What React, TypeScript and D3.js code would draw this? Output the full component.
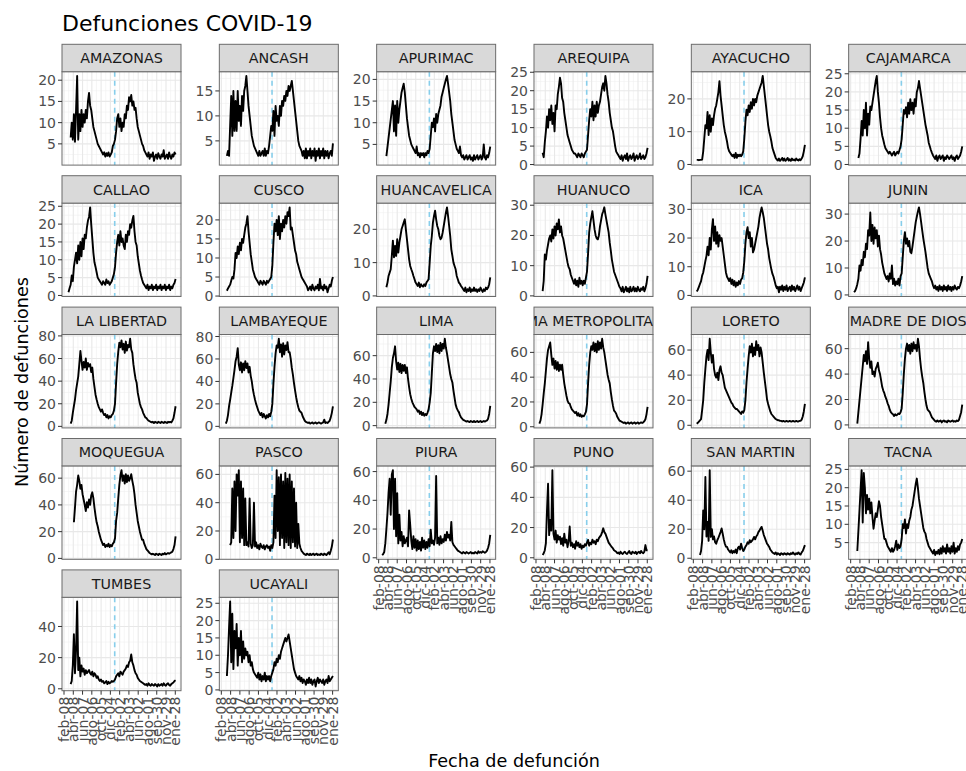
import React from "react";
import * as d3 from "d3";

const width = 966;
const height = 771;

// facet names, in ggplot facet_wrap order
const departments = [
  "AMAZONAS", "ANCASH", "APURIMAC", "AREQUIPA", "AYACUCHO", "CAJAMARCA",
  "CALLAO", "CUSCO", "HUANCAVELICA", "HUANUCO", "ICA", "JUNIN",
  "LA LIBERTAD", "LAMBAYEQUE", "LIMA", "LIMA METROPOLITANA", "LORETO", "MADRE DE DIOS",
  "MOQUEGUA", "PASCO", "PIURA", "PUNO", "SAN MARTIN", "TACNA",
  "TUMBES", "UCAYALI",
];

// y breaks of each free y scale
const yBreaks = [
  [5, 10, 15, 20], [5, 10, 15], [5, 10, 15, 20], [0, 5, 10, 15, 20, 25], [0, 10, 20], [0, 5, 10, 15, 20, 25],
  [0, 5, 10, 15, 20, 25], [0, 5, 10, 15, 20], [0, 10, 20], [0, 10, 20, 30], [0, 10, 20, 30], [0, 10, 20, 30],
  [0, 20, 40, 60, 80], [0, 20, 40, 60, 80], [0, 20, 40, 60], [0, 20, 40, 60], [0, 20, 40, 60], [0, 20, 40, 60],
  [0, 20, 40, 60], [0, 20, 40, 60], [0, 20, 40, 60], [0, 20, 40, 60], [0, 20, 40, 60], [5, 10, 15, 20, 25],
  [0, 20, 40], [0, 5, 10, 15, 20, 25],
];

// x breaks (every 60 days)
const xTickDates = [
  "2020-02-08", "2020-04-08", "2020-06-07", "2020-08-06", "2020-10-05", "2020-12-04", "2021-02-02",
  "2021-04-03", "2021-06-02", "2021-08-01", "2021-09-30", "2021-11-29", "2022-01-28",
];
const xTickLabels = [
  "feb-08", "abr-08", "jun-07", "ago-06", "oct-05", "dic-04", "feb-02",
  "abr-03", "jun-02", "ago-01", "sep-30", "nov-29", "ene-28",
];

const firstWeek = "2020-03-01"; // values below are weekly from this date
const markerDate = "2021-01-01";

// weekly deaths (null = no data)
const amazonas = [null, null, null, 6.5, 10, 6, 12, 5.5, 13, 21, 6, 12, 8, 13, 9, 12, 10, 13, 11, 15, 17, 14, 13, 11, 9, 8, 7, 6, 5, 4.5, 4, 3.5, 3, 2.5, 3, 2, 2.8, 2.2, 3, 2, 2.5, 3, 4.5, 5, 6, 8, 11, 12, 9, 11, 8, 10, 9, 12, 11, 14, 13, 16, 15, 16.5, 14, 15, 13, 13.5, 11, 9, 8, 7, 6, 5, 4.5, 3.5, 3, 2.5, 2, 3, 1.5, 2.5, 2, 3, 1, 2, 2.5, 1.5, 2.8, 2, 1.5, 2.5, 2, 3.5, 1.5, 2, 2.5, 1.5, 3, 2, 1.5, 2.5, 2, 3, 2.5];
const ancash = [null, null, 2, 3, 2, 8, 14, 6, 15, 7, 13, 7, 15, 9, 12, 8, 14, 11, 15, 16, 18, 15, 12, 10, 8, 6, 5, 4, 3.5, 3, 2.5, 2, 3, 2, 2.5, 3, 2, 3.5, 2, 3, 2.5, 4, 6, 8, 7, 11, 6, 12, 9, 10, 8, 12, 10, 13, 12, 14, 13, 15, 14, 16, 15, 16, 17, 15, 13, 11, 9, 7, 5, 4, 3.5, 3, 2, 3, 1.5, 3.5, 1.5, 3, 2, 3.5, 1.5, 3, 2, 3.5, 1, 3, 2, 3.5, 1.5, 3, 2, 3.5, 1.5, 3, 2, 3, 1.5, 2.5, 3, 2, 4.5];
const apurimac = [null, null, null, null, 2.3, null, null, null, null, null, 15, 8, 14, 7, 15, 10, 13, 15, 17, 18, 19, 17, 14, 11, 9, 7, 6, 5, 4.5, 4, 3.5, 3, 4.5, 2.5, 3, 2, 3, 2.5, 3, 2, 3, 2.5, 3.5, 3, 4, 7, 10, 9, 11, 8, 12, 10, 12, 13, 14, 16, 17, 18, 19, 20, 20.8, 19, 17, 15, 12, 10, 8, 6, 5, 4, 3.5, 3, 4.5, 2.5, 2, 2.5, 1.5, 2, 2.5, 1.5, 2, 2.5, 1.5, 2, 1.2, 2.5, 1.5, 2, 2.5, 1.5, 2, 2.5, 1.5, 2, 5, 2, 1.5, 2.5, 2, 3, 4.5];
const arequipa = [null, null, null, 3.2, 2, 6, 9, 13, 10, 15, 12, 16, 11, 14, 9, 16, 15, 19, 21, 23.5, 22, 18, 17, 14, 12, 10, 8, 7, 6, 5, 4, 3.5, 3, 3, 2.5, 2, 3, 2.5, 2, 3, 2.5, 2, 3, 3.5, 4, 8, 12, 15, 13, 17, 12, 16, 13, 17, 14, 16, 17, 19, 21, 22, 20, 24, 22, 19, 17, 14, 12, 10, 9, 7, 5, 3.5, 3, 2.5, 2, 1.5, 2.5, 1, 2, 2.5, 1.5, 3, 1, 2, 2.5, 1.5, 2, 3, 1, 2, 2.5, 1.5, 2, 3, 1.5, 2, 2.5, 1.5, 2, 3, 4.5];
const ayacucho = [1.4, 1.4, 1.3, 1.4, 1.4, 1.5, 4, 8, 12, 11, 16, 9, 15, 10, 14, 12, 15, 17, 18, 20, 22, 25.4, 21, 18, 15, 12, 10, 8.6, 7, 5, 4, 3.5, 3, 2.5, 3, 2, 3.5, 2, 3, 2.5, 3, 2.5, 3, 4, 8, 13, 16.7, 15, 18, 16, 19, 17, 20, 18, 20, 19, 21, 22, 23, 24, 25, 27, 24, 21, 18, 15, 12, 10, 8.6, 7, 5, 4, 3, 2, 1.5, 1.2, 1.8, 1.1, 1.5, 2, 1.2, 1.8, 1.1, 1.5, 2, 1.2, 1.6, 1.1, 1.8, 1.3, 1.5, 1.2, 1.8, 1.4, 1.2, 1.6, 1.3, 1.8, 2.5, 4, 6];
const cajamarca = [null, null, null, null, 1.8, 3, 7, 12, 8, 15, 10, 17, 8, 14, 11, 16, 15, 17, 19, 21, 23, 24.4, 20, 17, 13, 10, 8, 6.8, 5.5, 4.5, 4, 3.5, 3, 3.5, 3, 2.5, 3, 3.5, 2.5, 3, 3.5, 3, 4, 5, 7, 11, 15, 14, 15.8, 13, 17, 14, 18, 15, 17, 14, 18, 16, 20, 21, 23, 21, 19, 17, 15, 13, 11, 9.5, 8, 6, 5, 4, 3.2, 2.5, 2, 1.5, 2.5, 1, 2, 2.5, 1.5, 2, 2.5, 1, 2, 1.5, 2.5, 2, 1.5, 2, 2.5, 1.5, 2, 1, 2, 2.5, 1.5, 2, 2.5, 3.5, 5];
const callao = [null, 0.9, 2, 3, 5.6, 4, 8, 10, 12, 9, 14, 10, 15, 11, 16, 13, 17, 16, 19, 21, 22, 24.7, 20, 16, 12, 9.3, 8, 6.5, 5, 4.5, 4, 3.5, 3, 4, 3.5, 3, 4.5, 3.5, 4, 3, 3.5, 4, 5, 6, 8, 12, 15, 17, 14, 18, 15, 16, 14, 13, 17, 15, 18, 17, 20, 19, 21, 22.3, 18, 15, 14, 11, 9, 7, 5.6, 4.5, 3.5, 3, 2.5, 2, 3, 1.5, 2.5, 2, 3, 1.5, 2.5, 2, 3, 1.5, 2.5, 2, 3, 1.5, 2.5, 2, 3, 1.5, 2.5, 2, 3, 1.5, 2.5, 2, 3, 3.5, 4.6];
const cusco = [null, null, 1.4, 2, 2.5, 3, 4, 5, 4.6, 7, 11.3, 10, 13, 11, 14, 12, 15, 14, 16, 18, 19, 21, 17, 14, 11, 9, 7, 6, 5, 4.5, 4, 3.5, 3, 4, 3.5, 3, 4, 3.5, 3, 4, 3.5, 4, 4.5, 5, 8, 14, 19, 17, 20, 16, 21, 15, 19, 17, 20, 18, 21, 19, 22, 21, 23.3, 17.5, 18, 16, 14, 12, 11, 9, 8, 7, 6, 5, 4.5, 4, 3.5, 3, 2.5, 1.5, 2, 2.5, 1.5, 3, 2, 1.5, 2.5, 2, 3, 1.5, 4.5, 2, 2.5, 1.5, 3, 2, 2.5, 1, 2, 3, 2.5, 4, 5];
const huancavelica = [null, null, null, null, 2.6, 4, 6, 7, 8, 12, 16.6, 11.6, 15, 12, 17, 13, 16, 18, 20, 21, 22, 23, 20, 17, 14, 11, 9, 8, 7.1, 6, 5, 4, 3.5, 3, 4, 2.6, 3.5, 3, 2.8, 3.5, 3, 4, 4.5, 5, 10, 15, 18, 22, 24, 25.6, 23, 21, 20, 18, 17, 17.5, 19, 21, 23, 25, 26.6, 24, 21, 18, 14, 12, 10, 9, 8, 6, 5, 4, 3.6, 3, 2.5, 2, 1.5, 2.5, 1.1, 2, 1.5, 2.5, 1.2, 2, 1.5, 2.5, 1.5, 2, 1.2, 2, 1.5, 2.5, 1.8, 1.2, 2, 1.5, 2.5, 2, 2.5, 3.5, 5.6];
const huanuco = [null, null, null, 1.6, 5, 13.7, 12, 15, 17, 19, 20, 18, 22, 19, 23, 20, 24, 22, 25.3, 21, 23, 20, 19, 17, 15, 13, 11, 9.5, 8.8, 7, 6, 5, 4, 5.5, 3.5, 5, 3, 6, 4, 5, 3.5, 5, 4, 6, 8, 14, 20.9, 24, 26, 28, 25, 22, 20, 19, 18.7, 20, 23, 25, 27, 28, 29.3, 27, 25, 23, 21, 17.6, 15, 12, 10, 8, 7, 6, 5, 4, 3, 2.5, 1.5, 3, 1.2, 2, 3, 1.5, 2.5, 1.2, 3, 1.5, 2, 3, 1.5, 2.5, 1.5, 3, 2, 1.5, 2.5, 2, 3, 1.5, 2.5, 4, 6.6];
const ica = [1.4, 2, 3, 4, 5, 6.9, 8, 10, 12, 13.8, 17, 14, 20, 16, 23, 26.6, 19, 24, 18, 22, 17, 21, 19, 20, 17, 14, 11, 8, 6.5, 5.8, 5, 6, 4, 5.5, 3.5, 5, 3, 4.5, 3.5, 5, 4, 5.5, 6, 8, 12, 18, 22, 23.8, 20, 22, 17, 20, 15, 16, 18, 20, 22, 24, 27, 29, 30.7, 29, 27, 24, 21, 18, 16, 13, 11, 9, 7.5, 6.5, 5, 3.5, 2.5, 3, 1.1, 3, 2, 3.5, 1.5, 3, 2, 3.5, 1.5, 2.5, 3, 1.5, 3.5, 2, 3, 1.5, 2.5, 3.5, 2, 3, 1.5, 2.5, 3.5, 4.5, 6.3];
const junin = [1, 1.5, 2.5, 4, 6, 10.9, 9, 13, 11, 16, 14, 19, 17, 24, 22, 30.6, 20, 26, 19, 25, 21, 24, 18, 22, 17, 15, 12, 10, 8, 7, 5.9, 7, 5, 8, 6, 10.9, 4, 6, 3.5, 5, 4, 6, 3.5, 7, 8, 14, 20, 23.3, 19, 21, 18, 20, 16, 15.5, 18, 21, 24, 27, 29, 31, 32.5, 30, 27, 24, 21, 18.5, 16, 13, 10, 8, 7, 6, 5, 3.5, 2.5, 3.5, 2, 3, 1.5, 3.5, 2, 3, 1.5, 3.5, 2, 3, 1.5, 3.5, 2, 3, 1.5, 3, 2, 3.5, 2.5, 2, 3, 2.5, 3.5, 5, 7];
const laLibertad = [null, null, null, 2.4, 5, 12, 18, 23.7, 32, 38, 44, 55, 66.7, 58, 50, 57, 52, 60, 50, 56, 53, 55, 48, 52, 42, 35, 28, 23.7, 20, 17, 15, 13, 15, 12, 10, 11, 8, 10, 7, 9, 8, 10, 11, 14, 20, 38.5, 55, 66, 74, 70, 76, 68, 73, 65, 75, 67, 72, 70, 77.5, 68, 65, 55, 48, 42, 38.5, 30, 25, 20, 17, 15, 12, 10, 8, 7.4, 6, 5, 4.5, 4, 3.5, 4, 3, 4, 3.5, 3, 4, 3.5, 3, 4, 3.5, 3, 4, 3.5, 3, 4, 3.5, 4, 3.5, 5, 7, 12, 17.8];
const lambayeque = [null, 2.4, 5, 10, 18, 23.7, 30, 36, 43, 50, 58, 62, 69.6, 55, 50, 57, 48, 56, 50, 58, 52, 56, 48, 53, 45, 40, 33, 28, 23.7, 20, 17, 14, 12, 10, 12, 8, 11, 9, 7, 10, 8, 11, 9, 13, 20, 38, 53, 65, 72, 70, 78, 66, 73, 62, 74, 64, 72, 68, 75, 66, 66, 60, 52, 46, 38.5, 32, 26, 21, 17, 14, 13, 12, 9, 7, 5, 4, 3.5, 3, 3.5, 2.5, 3, 3.5, 2.5, 3, 3.5, 2.5, 3, 3.5, 3, 2.5, 3, 3.5, 6, 3, 3.5, 3, 4, 5, 8, 12, 17.8];
const lima = [null, null, null, 1.7, 5, 10, 18, 28, 38, 50, 58, 62, 68, 55, 48, 54, 46, 53, 45, 52, 47, 52, 45, 50, 40, 33, 27, 23, 20, 18, 16, 15, 14, 12, 13, 10, 12, 9, 11, 8.5, 10, 9, 11, 14, 20, 28, 45, 62, 68, 64, 70, 63, 69, 62, 71, 64, 70, 66, 74.5, 67, 62, 56, 50, 44, 40, 37, 30, 24, 18, 15, 13, 11.6, 9, 7, 6, 5, 4.5, 4, 3.5, 4, 3.5, 3, 4, 3.5, 3, 4, 3, 3.5, 4, 3, 3.5, 4, 3, 3.5, 4, 3.5, 4, 4.5, 6, 10, 17];
const limaMetropolitana = [2.5, 5, 10, 18, 27, 35, 45, 55, 62, 65, 68, 58, 50, 55, 47, 53, 46, 52, 45, 50, 46, 50, 42, 35, 30, 25, 21, 19, 18.7, 16, 14, 13, 12, 11, 12, 9, 11, 8.5, 10, 8, 9, 8.5, 10, 12, 18, 35, 50, 60, 65, 62, 68, 61, 67, 60, 69, 62, 68, 63, 71, 64, 60, 54, 48, 42, 38, 35, 28, 22, 17, 13, 12, 10.5, 8, 6.5, 5, 4.5, 4, 3.5, 3, 3.5, 2.5, 3, 3.5, 2.5, 3, 3.5, 2.5, 3, 3.5, 2.5, 3, 3.5, 2.5, 3, 3.5, 3, 3.5, 4.5, 6, 10, 16];
const loreto = [1.3, 2, 3, 4, 5, 12, 20, 34, 45, 55, 60, 52, 69, 58, 50, 56, 45, 40, 38, 42, 36, 44, 47, 42, 40, 35, 30, 28, 26, 24, 22, 20, 18, 17, 15, 14, 13, 13, 12, 11, 10, 9, 11, 10, 12, 20, 34, 45, 55, 63, 58, 65, 55, 62, 56, 67, 60, 64, 55, 62, 58, 50, 42, 35, 28, 20.5, 17, 14, 11, 9, 8, 7, 6, 5, 4.5, 4, 4, 3.5, 3.5, 3, 3.5, 3, 3, 3.5, 3, 3, 3.5, 3, 3, 3.5, 3, 3, 3.5, 3, 3, 3.5, 3.5, 4.5, 7, 11, 17];
const madreDeDios = [null, null, null, 1, null, null, null, null, null, 55, 50, 58, 48, 65, 52, 45, 50, 40, 42, 38, 44, 46, 49, 43, 40, 35, 30, 27, 25, 22, 20, 17, 15, 12, 10, 9, 8.4, 7, 8.4, 7.5, 8, 9, 8.5, 10, 13, 25, 40, 52, 60, 64, 58, 63, 56, 64, 58, 65, 60, 63, 58, 67.8, 62, 52, 44, 38, 33, 26, 20, 15, 12, 11, 10, 8, 6, 5, 4, 3, 2.5, 3.5, 2.5, 3, 3.5, 2, 3, 3.5, 2.5, 3, 2, 3.5, 3, 2.5, 3, 3.5, 2.5, 3, 2.5, 3.5, 3, 4, 7, 10, 16];
const moquegua = [null, null, null, null, null, null, 27, 38, 50, 55, 62, 58, 52, 55, 48, 44, 40, 35.4, 42, 38, 44, 40, 47, 49.4, 45, 38, 32, 27, 24, 20, 17, 14, 12, 10, 11, 8.5, 10, 9, 11, 8.5, 10, 9, 11, 12, 15, 28, 34, 45, 55, 62, 66, 58, 62, 56, 63, 57, 62, 58, 60, 63, 58, 54, 48, 40, 34, 28, 24, 20, 17, 14, 14, 11, 9, 7, 6, 5, 4, 3.5, 3, 3.5, 3, 2.5, 3.5, 3, 2.5, 3.5, 3, 2.5, 3.5, 3, 4, 3, 3.5, 4, 3.5, 4, 4.5, 5, 7, 10, 16.5];
const pasco = [null, null, null, null, null, 10, 12, 50, 15, 55, 20, 60, 45, 63, 12, 55, 15, 50, 10, 43, 10, 12, 9, 43, 11, 8, 10, 40, 9, 12, 8, 10, 7, 11, 9, 8, 10, 7, 9, 10, 8, 9, 6, 10, 8, 12, 45, 15, 63, 20, 58, 10, 60, 15, 55, 8, 61, 12, 57, 10, 60, 8, 55, 12, 50, 9, 40, 8, 25, 11, 8, 6, 5, 4, 3.5, 3, 4, 3.5, 3, 4, 3, 3.5, 4, 3, 3.5, 4, 3, 3.5, 3, 4, 3.5, 3, 4, 3.5, 3, 4, 5, 3.5, 6, 9, 14];
const piura = [1.9, 2.5, 4, 10, 20, 31, 45, 55, 30, 58, 61, 20, 55, 15, 45, 10, 30, 12, 18, 8, 15, 10, 12, 14, 8, 33, 23, 12, 6, 15, 7, 13, 5, 12, 6, 11, 5, 14, 7, 12, 6, 11, 7, 13, 8, 19.5, 10, 12, 9, 14, 57, 10, 14, 9, 15, 10, 13, 11, 16, 12, 18, 14, 16, 12, 25, 11, 9, 8, 7, 6, 5, 4.5, 4, 3.5, 3, 4, 3.5, 3, 4, 3.5, 3, 3.5, 4, 3, 3.5, 3, 4, 3.5, 3, 4.5, 3.5, 4, 3.5, 4.5, 4, 3.5, 4, 5, 7, 10, 16];
const puno = [null, null, null, 1.8, 3, 5, 9.6, 31, 49, 15, 25, 18, 58, 16, 12, 18, 10, 15, 12, 14, 9, 13, 8, 16, 10, 12, 7, 11, 20.7, 8, 10, 7, 9, 6, 11, 8, 10, 7, 9, 6, 8, 7, 9, 8, 10, 11.8, 8, 10, 9, 12, 10, 11, 9, 12, 11, 13, 14, 15, 17, 19.5, 17, 16, 14, 12, 10, 9, 8, 7, 6.2, 5, 4.5, 4, 3, 3.5, 2.5, 4, 3, 2.5, 3.5, 4, 3, 2.5, 3.5, 4.5, 3, 2.5, 4, 3.5, 3, 4, 2.5, 3.5, 4, 3, 4.5, 3.5, 3, 4, 8.4, 5, 5];
const sanMartin = [null, null, null, 2.3, 5, 12, 33, 20, 56, 15, 25, 12, 60.7, 14.7, 20, 13, 15, 11, 10, 12.4, 14, 16, 18, 20.5, 17, 13, 10, 8, 7.8, 6, 5, 4, 5.5, 3.5, 5, 4, 6, 3.5, 7, 8, 6, 10, 7, 5, 6, 8, 9, 11, 10, 12.4, 11, 12, 13, 14.7, 13, 15, 16, 18, 19, 20.5, 21.6, 19, 16, 14, 12, 10, 9, 7.8, 6, 5, 4, 3.5, 3, 4, 2.5, 3.5, 3, 2.2, 3.5, 3, 2.5, 3.5, 3, 2.5, 3.5, 3, 2.5, 3.5, 3, 4, 3, 2.5, 3.5, 3, 4, 3, 2.5, 4, 5, 7, 9];
const tacna = [null, null, null, 2.7, null, null, null, 24.8, 10.5, 24, 20, 13, 18, 14, 17, 13, 16, 12, 8.8, 11, 13, 12, 14, 16.3, 15, 12, 10, 8, 6, 6, 5, 4, 3.5, 3, 2.5, 3.5, 2.5, 3, 4, 5.5, 3, 4.5, 3.5, 4, 6, 10, 9, 11.3, 7.5, 10, 9, 11, 12, 14, 15, 17, 19, 21, 22.5, 20, 17, 15, 13, 11, 9, 8, 7.5, 6, 5, 4, 3.5, 3, 2.5, 2, 3, 1.6, 2.5, 2, 3, 1.8, 3.5, 2, 4, 2.5, 3.5, 2, 4.5, 2.5, 3.5, 2, 4, 2.5, 5, 2, 3.5, 2.5, 4, 3, 4.5, 5, 6];
const tumbes = [null, null, null, 3, 5, 15, 35, 10, 25, 56, 12, 20, 8, 15, 11, 13, 9, 12, 10, 11, 12, 10, 9, 11, 8, 10, 9, 7, 8, 6, 5, 6, 4.5, 5, 3.5, 4, 5, 3, 4.5, 3.5, 4, 5, 4.5, 5, 6, 8, 9, 10, 8, 11, 10, 9, 11, 12, 13, 15, 14, 17, 18, 22, 17, 15, 12, 10, 9, 7, 6, 5, 4.5, 4, 3.5, 3, 2.5, 3, 2, 3.5, 2.5, 2, 3, 2.5, 2, 3, 2.5, 1.5, 3, 2, 2.5, 3, 2, 3.5, 2.5, 2, 3, 3.5, 2.5, 2, 3, 3.5, 4, 5, 5.5];
const ucayali = [null, null, 4, 10, 18, 25.5, 8, 22, 6, 17, 12, 19, 7, 15, 10, 17, 8, 14, 9, 12, 10, 11, 8, 10, 7, 8, 6, 5, 4.5, 4, 3.5, 5, 3, 4.5, 2.5, 4, 3, 5, 2.5, 4, 3, 4, 2.5, 4, 5, 6, 8, 7, 9, 8, 10, 9, 11, 12, 13, 14, 15, 14, 15, 16, 14, 12, 10, 8, 6, 5, 4, 3.5, 3, 4, 2.5, 3.5, 2, 3, 2.5, 1.5, 3, 2, 3.5, 2, 3, 1.5, 2.5, 3, 1, 2.5, 3.5, 2, 3, 2.5, 2, 3, 1.5, 2.5, 3, 2, 4, 2.5, 3, 3.5, 4];

const series = [
  amazonas, ancash, apurimac, arequipa, ayacucho, cajamarca,
  callao, cusco, huancavelica, huanuco, ica, junin,
  laLibertad, lambayeque, lima, limaMetropolitana, loreto, madreDeDios,
  moquegua, pasco, piura, puno, sanMartin, tacna,
  tumbes, ucayali,
];

// layout
const nCol = 6;
const left0 = 62;
const colStep = 157.33;
const panelW = 119;
const stripTop0 = 44.3;
const rowStep = 131.4;
const stripH = 27.4;
const panelH = 93.4;
const font = "DejaVu Sans, Verdana, sans-serif";

const parse = d3.timeParse("%Y-%m-%d");
const start = parse(firstWeek) as Date;
const dates = amazonas.map((_, i) => d3.timeDay.offset(start, 7 * i));
const tickDates = xTickDates.map((s) => parse(s) as Date);
const marker = parse(markerDate) as Date;

const t0 = +dates[0];
const t1 = +dates[dates.length - 1];
const tPad = (t1 - t0) * 0.05;
const xScale = d3.scaleTime().domain([new Date(t0 - tPad), new Date(t1 + tPad)]).range([0, panelW]);

// minor breaks halfway between majors (ggplot style)
const xMinor: Date[] = [];
for (let i = -1; i < tickDates.length; i++) {
  const a = i < 0 ? +tickDates[0] - (+tickDates[1] - +tickDates[0]) : +tickDates[i];
  const b = i + 1 < tickDates.length ? +tickDates[i + 1] : +tickDates[i] + (+tickDates[i] - +tickDates[i - 1]);
  xMinor.push(new Date((a + b) / 2));
}

function Panel({ k }: { k: number }) {
  const row = Math.floor(k / nCol);
  const col = k % nCol;
  const x0 = left0 + col * colStep;
  const top = stripTop0 + row * rowStep + stripH;
  const vals = series[k];
  const pts = vals
    .map((v, i) => [dates[i], v] as [Date, number | null])
    .filter((d) => d[1] !== null) as [Date, number][];
  const [lo, hi] = d3.extent(pts, (d) => d[1]) as [number, number];
  const pad = (hi - lo) * 0.05;
  const y = d3.scaleLinear().domain([lo - pad, hi + pad]).range([panelH, 0]);
  const [d0, d1] = y.domain();
  const breaks = yBreaks[k].filter((b) => b >= d0 && b <= d1);
  const allB = yBreaks[k];
  const step = allB[1] - allB[0];
  const yMinor: number[] = [];
  for (let b = allB[0] - step / 2; b <= d1; b += step) if (b >= d0) yMinor.push(b);
  const line = d3
    .line<[Date, number]>()
    .x((d) => xScale(d[0]))
    .y((d) => y(d[1]));
  const hasXAxis = k + nCol >= departments.length;

  return (
    <g transform={`translate(${x0},${top})`}>
      <defs>
        <clipPath id={`pc${k}`}>
          <rect x={0} y={0} width={panelW} height={panelH} />
        </clipPath>
        <clipPath id={`sc${k}`}>
          <rect x={0} y={-stripH} width={panelW} height={stripH} />
        </clipPath>
      </defs>
      <rect x={0} y={0} width={panelW} height={panelH} fill="#fff" />
      <g clipPath={`url(#pc${k})`}>
        {yMinor.map((b, i) => (
          <line key={`ym${i}`} x1={0} x2={panelW} y1={y(b)} y2={y(b)} stroke="#f0f0f0" strokeWidth={0.6} />
        ))}
        {xMinor.map((d, i) => (
          <line key={`xm${i}`} x1={xScale(d)} x2={xScale(d)} y1={0} y2={panelH} stroke="#f0f0f0" strokeWidth={0.6} />
        ))}
        {breaks.map((b, i) => (
          <line key={`yM${i}`} x1={0} x2={panelW} y1={y(b)} y2={y(b)} stroke="#e8e8e8" strokeWidth={1.1} />
        ))}
        {tickDates.map((d, i) => (
          <line key={`xM${i}`} x1={xScale(d)} x2={xScale(d)} y1={0} y2={panelH} stroke="#e8e8e8" strokeWidth={1.1} />
        ))}
        <line
          x1={xScale(marker)}
          x2={xScale(marker)}
          y1={0}
          y2={panelH}
          stroke="#87ceeb"
          strokeWidth={1.6}
          strokeDasharray="5,4"
        />
        <path d={line(pts) ?? ""} fill="none" stroke="#000" strokeWidth={1.9} strokeLinejoin="round" />
      </g>
      <rect x={0} y={0} width={panelW} height={panelH} fill="none" stroke="#6b6b6b" strokeWidth={1} />
      <rect x={0} y={-stripH} width={panelW} height={stripH} fill="#d9d9d9" stroke="#6b6b6b" strokeWidth={1} />
      <text
        x={panelW / 2}
        y={-stripH / 2}
        dy="0.36em"
        textAnchor="middle"
        fontFamily={font}
        fontSize={14.3}
        fill="#1a1a1a"
        clipPath={`url(#sc${k})`}
      >
        {departments[k]}
      </text>
      {breaks.map((b, i) => (
        <g key={`yt${i}`} transform={`translate(0,${y(b)})`}>
          <line x1={-4} x2={0} stroke="#333" strokeWidth={1} />
          <text x={-6} dy="0.36em" textAnchor="end" fontFamily={font} fontSize={14} fill="#4d4d4d">
            {b}
          </text>
        </g>
      ))}
      {hasXAxis &&
        tickDates.map((d, i) => (
          <g key={`xt${i}`} transform={`translate(${xScale(d)},${panelH})`}>
            <line y1={0} y2={4} stroke="#333" strokeWidth={1} />
            <text
              transform="translate(0,6) rotate(-90)"
              dy="0.36em"
              textAnchor="end"
              fontFamily={font}
              fontSize={14}
              fill="#4d4d4d"
            >
              {xTickLabels[i]}
            </text>
          </g>
        ))}
    </g>
  );
}

export default function App() {
  return (
    <div style={{ position: "absolute", left: 0, top: 0 }}>
      <svg width={width} height={height} style={{ display: "block", background: "#fff" }}>
        <rect width={width} height={height} fill="#fff" />
        <text x={62} y={31} fontFamily={font} fontSize={22} fill="#000">
          Defunciones COVID-19
        </text>
        {departments.map((_, k) => (
          <Panel key={k} k={k} />
        ))}
        <text
          transform="translate(28,382) rotate(-90)"
          textAnchor="middle"
          fontFamily={font}
          fontSize={17.6}
          fill="#000"
        >
          Número de defunciones
        </text>
        <text x={514} y={767} textAnchor="middle" fontFamily={font} fontSize={17.6} fill="#000">
          Fecha de defunción
        </text>
      </svg>
    </div>
  );
}
